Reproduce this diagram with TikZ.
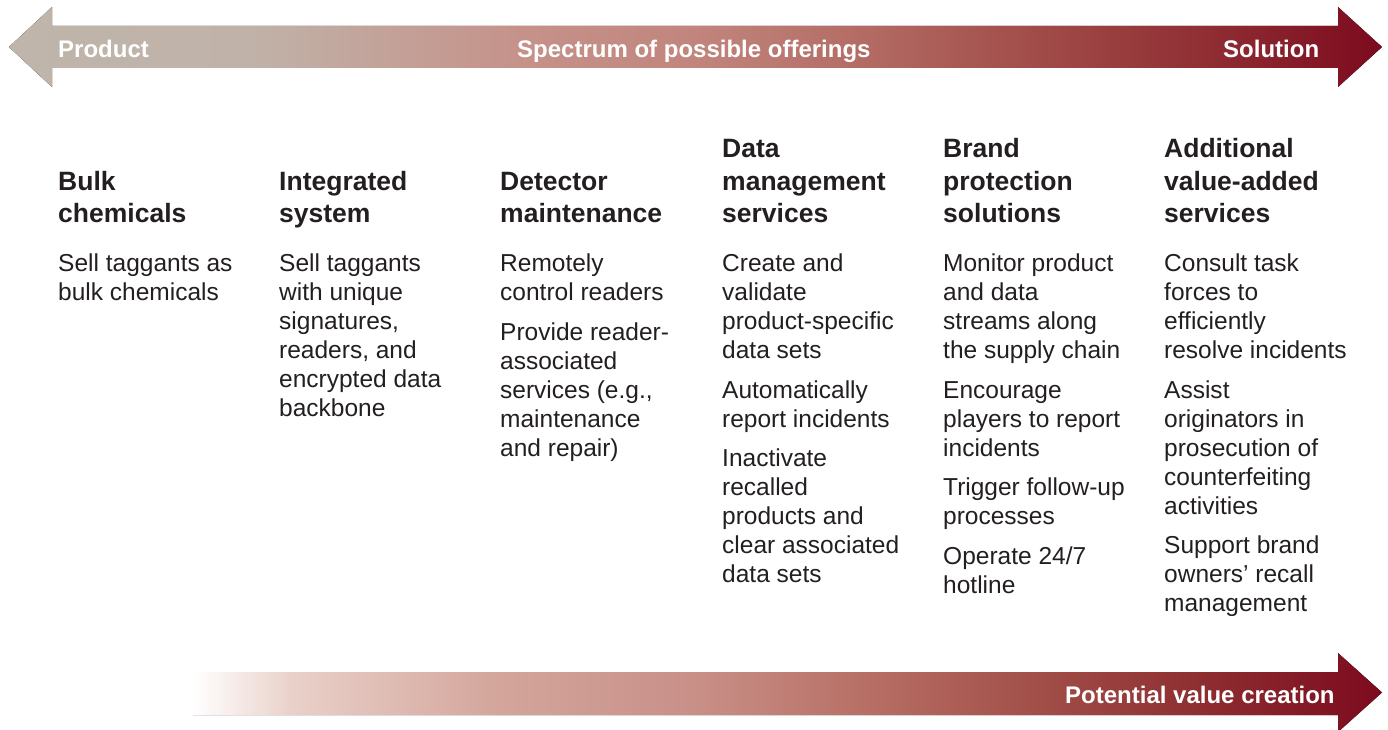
\documentclass[tikz,border=0pt]{standalone}
\usepackage{fontspec}
\setmainfont{Liberation Sans}
\usetikzlibrary{positioning}

\definecolor{inkgray}{HTML}{231F20}
% colours along the spectrum arrow
\definecolor{specA}{HTML}{BFB5AB}
\definecolor{specB}{HTML}{C0B2A8}
\definecolor{specC}{HTML}{C5928A}
\definecolor{specD}{HTML}{C1857D}
\definecolor{specE}{HTML}{B46E66}
\definecolor{specF}{HTML}{A5524E}
\definecolor{specG}{HTML}{902F34}
\definecolor{specH}{HTML}{7C0A1E}
% colours along the value arrow
\definecolor{valA}{HTML}{FFFFFF}
\definecolor{valB}{HTML}{E9D0C9}
\definecolor{valC}{HTML}{D3A59B}
\definecolor{valD}{HTML}{C88F87}
\definecolor{valE}{HTML}{B97268}
\definecolor{valF}{HTML}{A04C47}
\definecolor{valG}{HTML}{8E2E31}

\pgfdeclarehorizontalshading{spectrum}{100bp}{color(0bp)=(specA); color(25bp)=(specA);
  color(33.8bp)=(specB); color(43.6bp)=(specC); color(50bp)=(specD); color(55.6bp)=(specE);
  color(61.1bp)=(specF); color(68.4bp)=(specG); color(75bp)=(specH); color(100bp)=(specH)}
\pgfdeclarehorizontalshading{valuegrad}{100bp}{color(0bp)=(valA); color(25bp)=(valA);
  color(29.2bp)=(valB); color(37.9bp)=(valC); color(46.3bp)=(valD); color(52.6bp)=(valE);
  color(61bp)=(valF); color(67.3bp)=(valG); color(75bp)=(specH); color(100bp)=(specH)}

\tikzstyle{arrowlabel}=[inner sep=0pt, anchor=base west, text=white, font=\fontsize{24}{28}\selectfont\bfseries]
% headings hang on the baseline of their last line
\tikzstyle{heading}=[inner sep=0pt, anchor=base west, align=left, text=inkgray, font=\fontsize{26.5}{32}\selectfont\bfseries]
% texts hang from a strut on their first line
\tikzstyle{body}=[inner sep=0pt, anchor=north west, align=left, text=inkgray, font=\fontsize{24.5}{29}\selectfont, execute at begin node=\strut]
\newcommand{\blockgap}{10.5pt}

\begin{document}
\begin{tikzpicture}[x=1pt, y=-1pt]

    \useasboundingbox (0,0) rectangle (1388,730);

    % top arrow
    \fill[shading=spectrum] (9,47) -- (52,7) -- (52,26) -- (1338,26) -- (1338,7) -- (1382,47)
        -- (1338,87) -- (1338,68) -- (52,68) -- (52,87) -- cycle;
    \node[arrowlabel] (product) at (58,58) {Product};
    \node[arrowlabel] (spectrum) at (517,58) {Spectrum of possible offerings};
    \node[arrowlabel] (solution) at (1223,58) {Solution};

    % column headings
    \node[heading] (bulk) at (58,222) {Bulk\\chemicals};
    \node[heading] (integrated) at (279,222) {Integrated\\system};
    \node[heading] (detector) at (500,222) {Detector\\maintenance};
    \node[heading] (datamgmt) at (722,222) {Data\\management\\services};
    \node[heading] (brand) at (943,222) {Brand\\protection\\solutions};
    \node[heading] (additional) at (1164,222) {Additional\\value-added\\services};

    % column texts
    \node[body] (bulktext) at (58,253.7) {Sell taggants as\\bulk chemicals};
    \node[body] (integratedtext) at (279,253.7) {Sell taggants\\with unique\\signatures,\\readers, and\\encrypted data\\backbone};
    \node[body] (detectortext) at (500,253.7) {Remotely\\control readers\\[\blockgap]Provide reader-\\associated\\services (e.g.,\\maintenance\\and repair)};
    \node[body] (datamgmttext) at (722,253.7) {Create and\\validate\\product-specific\\data sets\\[\blockgap]Automatically\\report incidents\\[\blockgap]Inactivate\\recalled\\products and\\clear associated\\data sets};
    \node[body] (brandtext) at (943,253.7) {Monitor product\\and data\\streams along\\the supply chain\\[\blockgap]Encourage\\players to report\\incidents\\[\blockgap]Trigger follow-up\\processes\\[\blockgap]Operate 24/7\\hotline};
    \node[body] (additionaltext) at (1164,253.7) {Consult task\\forces to\\efficiently\\resolve incidents\\[\blockgap]Assist\\originators in\\prosecution of\\counterfeiting\\activities\\[\blockgap]Support brand\\owners’ recall\\management};

    % bottom arrow
    \fill[shading=valuegrad] (193,672) -- (1338,672) -- (1338,653) -- (1382,692.5)
        -- (1338,732) -- (1338,715) -- (193,715) -- cycle;
    \node[arrowlabel] (value) at (1065,703) {Potential value creation};

\end{tikzpicture}
\end{document}
